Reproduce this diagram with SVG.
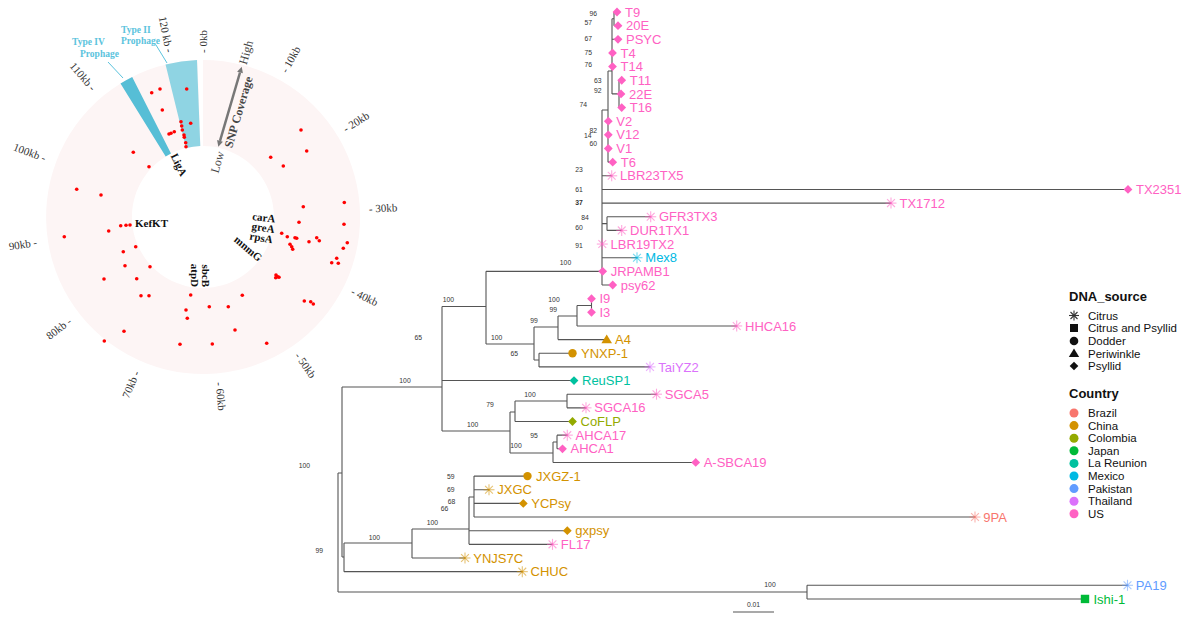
<svg xmlns="http://www.w3.org/2000/svg" width="1183" height="618" viewBox="0 0 1183 618">
<style>
.tl{font-family:"Liberation Sans",Arial,sans-serif;font-size:13px}
.bs{font-family:"Liberation Sans",Arial,sans-serif;font-size:6.8px;fill:#333;text-anchor:middle}
.tick{font-family:"Liberation Serif","Times New Roman",serif;font-size:11px;fill:#333;dominant-baseline:central}
.gene{font-family:"Liberation Serif","Times New Roman",serif;font-size:11px;font-weight:bold;fill:#111}
.ser{font-family:"Liberation Serif","Times New Roman",serif;font-size:12px;fill:#444;dominant-baseline:central;text-anchor:middle}
.pro{font-family:"Liberation Serif","Times New Roman",serif;font-size:9.5px;font-weight:bold;fill:#5BC3DD}
.edge{fill:none;stroke:#555;stroke-width:1.1}
.lg{font-family:"Liberation Sans",Arial,sans-serif;font-size:11.5px;fill:#111}
.lh{font-family:"Liberation Sans",Arial,sans-serif;font-size:13px;font-weight:bold;fill:#111}
.us{color:#FF61C3;fill:#FF61C3}
.cn{color:#D39200;fill:#D39200}
.co{color:#93AA00;fill:#93AA00}
.jp{color:#00BA38;fill:#00BA38}
.lr{color:#00C19F;fill:#00C19F}
.mx{color:#00B9E3;fill:#00B9E3}
.pk{color:#619CFF;fill:#619CFF}
.th{color:#DB72FB;fill:#DB72FB}
.br{color:#F8766D;fill:#F8766D}
.dot{fill:#FF0000}
</style>
<defs>
<path id="dia" d="M0,-4.4L4.4,0L0,4.4L-4.4,0Z" fill="currentColor"/>
<g id="star" stroke="currentColor" stroke-width="1.1" stroke-opacity="0.55" fill="none">
<line x1="-5.5" y1="0" x2="5.5" y2="0"/><line x1="0" y1="-5.5" x2="0" y2="5.5"/>
<line x1="-3.9" y1="-3.9" x2="3.9" y2="3.9"/><line x1="-3.9" y1="3.9" x2="3.9" y2="-3.9"/>
</g>
<circle id="circ" r="4.2" fill="currentColor"/>
<path id="tri" d="M0,-5L5.3,3.6L-5.3,3.6Z" fill="currentColor"/>
<rect id="sq" x="-4.2" y="-4.2" width="8.4" height="8.4" fill="currentColor"/>
</defs>
<rect width="1183" height="618" fill="#fff"/>

<!-- circular genome plot -->
<g id="genome-ring">
<path d="M203,60 A157,157 0 1 1 197.52,60.1 L200.52,146.04 A71,71 0 1 0 203,146 Z" fill="#FDF5F5"/>
<path d="M165.55,64.54 A157,157 0 0 1 196.97,60.12 L200.27,146.05 A71,71 0 0 0 186.07,148.05 Z" fill="#8FD4E3"/>
<path d="M120.5,83.4 A157,157 0 0 1 132.2,76.9 L171,153.6 A71,71 0 0 0 165.7,156.6 Z" fill="#56BED6"/>
</g>
<g id="prophage-labels">
<line x1="108" y1="62" x2="123" y2="78" stroke="#5BC3DD" stroke-width="1"/>
<line x1="156" y1="45" x2="167" y2="63" stroke="#5BC3DD" stroke-width="1"/>
<text class="pro" x="72" y="45">Type IV</text>
<text class="pro" x="80" y="57">Prophage</text>
<text class="pro" x="121" y="33">Type II</text>
<text class="pro" x="121" y="44">Prophage</text>
</g>
<g id="snps">
<circle class="dot" cx="151.7" cy="92.7" r="1.8"/><circle class="dot" cx="160" cy="89" r="1.8"/><circle class="dot" cx="186.7" cy="89" r="1.8"/>
<circle class="dot" cx="162.3" cy="110" r="1.8"/><circle class="dot" cx="190.7" cy="123.3" r="1.8"/><circle class="dot" cx="181" cy="121.7" r="1.8"/>
<circle class="dot" cx="181.7" cy="126" r="1.8"/><circle class="dot" cx="182.3" cy="130" r="1.8"/><circle class="dot" cx="184" cy="135" r="1.8"/>
<circle class="dot" cx="184.3" cy="137.3" r="1.8"/><circle class="dot" cx="185.7" cy="142.7" r="1.8"/><circle class="dot" cx="186" cy="146.7" r="1.8"/>
<circle class="dot" cx="169" cy="134" r="1.8"/><circle class="dot" cx="171" cy="133.3" r="1.8"/><circle class="dot" cx="174.3" cy="131.7" r="1.8"/>
<circle class="dot" cx="133.3" cy="152.3" r="1.8"/><circle class="dot" cx="149" cy="166.7" r="1.8"/><circle class="dot" cx="76.7" cy="189.3" r="1.8"/>
<circle class="dot" cx="101" cy="195" r="1.8"/><circle class="dot" cx="301" cy="130" r="1.8"/><circle class="dot" cx="306.7" cy="151" r="1.8"/>
<circle class="dot" cx="270.7" cy="157.3" r="1.8"/><circle class="dot" cx="283.3" cy="166" r="1.8"/><circle class="dot" cx="344.3" cy="202.5" r="1.8"/>
<circle class="dot" cx="303.3" cy="206.7" r="1.8"/><circle class="dot" cx="299" cy="222.3" r="1.8"/><circle class="dot" cx="344" cy="224.3" r="1.8"/>
<circle class="dot" cx="281.7" cy="233.3" r="1.8"/><circle class="dot" cx="287.3" cy="236.7" r="1.8"/><circle class="dot" cx="295" cy="237.7" r="1.8"/>
<circle class="dot" cx="296.7" cy="238.3" r="1.8"/><circle class="dot" cx="309" cy="241.7" r="1.8"/><circle class="dot" cx="316.7" cy="237.7" r="1.8"/>
<circle class="dot" cx="319.3" cy="240.7" r="1.8"/><circle class="dot" cx="290" cy="244.3" r="1.8"/><circle class="dot" cx="291.7" cy="246.7" r="1.8"/>
<circle class="dot" cx="292.7" cy="249.3" r="1.8"/><circle class="dot" cx="347.3" cy="242.7" r="1.8"/><circle class="dot" cx="343.3" cy="248.3" r="1.8"/>
<circle class="dot" cx="336.7" cy="258.3" r="1.8"/><circle class="dot" cx="331.7" cy="262.7" r="1.8"/><circle class="dot" cx="338.3" cy="263.3" r="1.8"/>
<circle class="dot" cx="276" cy="275" r="1.8"/><circle class="dot" cx="277.7" cy="276.7" r="1.8"/><circle class="dot" cx="275.7" cy="277.7" r="1.8"/>
<circle class="dot" cx="279" cy="277.3" r="1.8"/><circle class="dot" cx="304.3" cy="301" r="1.8"/><circle class="dot" cx="310.7" cy="301.7" r="1.8"/>
<circle class="dot" cx="313.3" cy="304" r="1.8"/><circle class="dot" cx="242.3" cy="295.3" r="1.8"/><circle class="dot" cx="228.3" cy="306.7" r="1.8"/>
<circle class="dot" cx="209.3" cy="306.7" r="1.8"/><circle class="dot" cx="190.7" cy="295" r="1.8"/><circle class="dot" cx="186" cy="310" r="1.8"/>
<circle class="dot" cx="187.3" cy="318.3" r="1.8"/><circle class="dot" cx="235" cy="330" r="1.8"/><circle class="dot" cx="212.3" cy="344" r="1.8"/>
<circle class="dot" cx="180" cy="344.3" r="1.8"/><circle class="dot" cx="266.7" cy="343.3" r="1.8"/><circle class="dot" cx="124" cy="331.3" r="1.8"/>
<circle class="dot" cx="104.3" cy="341" r="1.8"/><circle class="dot" cx="141" cy="295.7" r="1.8"/><circle class="dot" cx="149" cy="295.7" r="1.8"/>
<circle class="dot" cx="104" cy="279" r="1.8"/><circle class="dot" cx="136.7" cy="278.7" r="1.8"/><circle class="dot" cx="125" cy="265.7" r="1.8"/>
<circle class="dot" cx="150" cy="266.7" r="1.8"/><circle class="dot" cx="123.3" cy="251.7" r="1.8"/><circle class="dot" cx="135.7" cy="246.7" r="1.8"/>
<circle class="dot" cx="64.3" cy="236.7" r="1.8"/><circle class="dot" cx="108.7" cy="231" r="1.8"/><circle class="dot" cx="120.7" cy="225.7" r="1.8"/>
<circle class="dot" cx="126" cy="225.3" r="1.8"/><circle class="dot" cx="130" cy="225" r="1.8"/>
</g>
<g id="ticks">
<text class="tick" transform="translate(203,53) rotate(-90)">- 0kb</text>
<text class="tick" transform="translate(283.6,71.9) rotate(-61)">- 10kb</text>
<text class="tick" transform="translate(343.9,129.3) rotate(-31.9)">- 20kb</text>
<text class="tick" transform="translate(368.8,208.7) rotate(-2.9)">- 30kb</text>
<text class="tick" transform="translate(352,290.3) rotate(26.2)">- 40kb</text>
<text class="tick" transform="translate(297.6,353.4) rotate(55.3)">- 50kb</text>
<text class="tick" transform="translate(219.5,382.2) rotate(84.3)">- 60kb</text>
<text class="tick" text-anchor="end" transform="translate(136.4,371.2) rotate(-66.7)">70kb -</text>
<text class="tick" text-anchor="end" transform="translate(69.9,319.5) rotate(-37.6)">80kb -</text>
<text class="tick" text-anchor="end" transform="translate(36.9,242) rotate(-8.6)">90kb -</text>
<text class="tick" text-anchor="end" transform="translate(45.6,158.2) rotate(20.5)">100kb -</text>
<text class="tick" text-anchor="end" transform="translate(94,89.2) rotate(49.6)">110kb -</text>
<text class="tick" text-anchor="end" transform="translate(169.8,52.3) rotate(78.6)">120 kb -</text>
</g>
<g id="snp-coverage">
<line x1="220" y1="140.9" x2="240" y2="72.5" stroke="#777" stroke-width="2.5"/>
<polygon points="241.7,66.7 242.9,73.3 237.1,71.7" fill="#777"/>
<polygon points="218.3,146.7 222.9,141.7 217.1,140.1" fill="#777"/>
<text class="ser" font-weight="bold" transform="translate(238.5,112) rotate(-73.7)">SNP Coverage</text>
<text class="ser" transform="translate(246,52.5) rotate(-73.7)">High</text>
<text class="ser" transform="translate(217.5,162) rotate(-73.7)">Low</text>
</g>
<g id="genes">
<text class="gene" dominant-baseline="central" transform="translate(174,154) rotate(64)">LigA</text>
<text class="gene" x="135" y="226.5">KefKT</text>
<text class="gene" text-anchor="end" transform="translate(275,222.5) rotate(6)">carA</text>
<text class="gene" text-anchor="end" transform="translate(274,233) rotate(8)">greA</text>
<text class="gene" text-anchor="end" transform="translate(272,243.5) rotate(10)">rpsA</text>
<text class="gene" text-anchor="end" dominant-baseline="central" transform="translate(261,259) rotate(40)">mnmG</text>
<text class="gene" text-anchor="end" dominant-baseline="central" transform="translate(206,287) rotate(90)">sbcB</text>
<text class="gene" text-anchor="end" dominant-baseline="central" transform="translate(195,287) rotate(90)">atpD</text>
</g>

<!-- phylogenetic tree -->
<g id="connectors">
<path class="edge" d="M614,12V25.65M614,12H617M614,25.65H618M612,18.8H614
M612,18.8V93.9M612,39.3H618
M612,93.9H619M619,80.25V107.55M619,80.25H621.7M619,93.9H621M619,107.55H621.7
M608,71H612M608,71V162.15M608,162.15H612.7
M602,110H608M602,110V285M602,175.8H611.7M602,189.45H1128M602,203.1H891M602,223.6H607M607,216.75V230.4M607,216.75H650.7M607,230.4H621.7M602,257.7H637M602,285H612.7
M486,271.35H602.7M486,271.35V344M486,344H534
M534,327V360M534,327H558M534,360H539M539,353.25V366.9M539,353.25H572.5M539,366.9H650
M558,316V339.6M558,316H577M558,339.6H606.7M577,305.5V325.95M577,305.5H591.5M591.5,298.65V312.3M577,325.95H736.7
M442,306.5V431M442,306.5H486M442,380.55H574M442,431H510
M510,412V453M510,412H515M515,401V421.5M515,401H567M515,421.5H572.5M567,394.2V407.85M567,394.2H656.5M567,407.85H586
M510,453H553M553,442V462.45M553,442H557M557,435.15V448.8M557,435.15H567.3M557,448.8H562.5M553,462.45H695.7
M342,387H442M342,387V557M338,473H342M342,557H344M344,543V571.65M344,543H412M344,571.65H522.3
M412,529V558M412,529H469M412,558H465M469,497V544.35M469,497H474M469,530.7H567.3M469,544.35H552.5
M474,476.1V517.05M474,476.1H527.5M474,489.75H489M474,503.4H523.3M474,517.05H975
M338,473V592M338,592H807M807,585.3V598.95M807,585.3H1127.5M807,598.95H1085"/>
<path class="edge" d="M733,612H774"/>
<text class="bs" x="753.5" y="607">0.01</text>
</g>
<g id="bootstrap">
<text class="bs" x="593.3" y="15.5">96</text><text class="bs" x="588.3" y="25">57</text><text class="bs" x="588.3" y="40.5">67</text>
<text class="bs" x="588.3" y="55">75</text><text class="bs" x="588.3" y="67.3">76</text><text class="bs" x="597.7" y="83">63</text>
<text class="bs" x="597.7" y="93">92</text><text class="bs" x="583.3" y="106.5">74</text><text class="bs" x="593.3" y="133">82</text>
<text class="bs" x="587.7" y="138.3">14</text><text class="bs" x="593.3" y="146.3">60</text><text class="bs" x="579" y="172.3">23</text>
<text class="bs" x="579" y="191.6">61</text><text class="bs" x="579" y="204.6" font-weight="bold">37</text><text class="bs" x="585" y="219.6">84</text>
<text class="bs" x="579" y="229.6">60</text><text class="bs" x="579" y="248.3">91</text><text class="bs" x="565.5" y="264.8">100</text>
<text class="bs" x="554" y="301.6">100</text><text class="bs" x="553.3" y="311.6">99</text><text class="bs" x="534" y="323.3">99</text>
<text class="bs" x="448.3" y="302.3">100</text><text class="bs" x="496.7" y="339.6">100</text><text class="bs" x="418.3" y="339.6">65</text>
<text class="bs" x="514.3" y="355.6">65</text><text class="bs" x="405" y="383">100</text><text class="bs" x="530" y="396.6">100</text>
<text class="bs" x="490" y="406.6">79</text><text class="bs" x="472.7" y="427.3">100</text><text class="bs" x="534" y="438">95</text>
<text class="bs" x="516" y="448">100</text><text class="bs" x="304.3" y="468.3">100</text><text class="bs" x="450.7" y="479">59</text>
<text class="bs" x="450.7" y="492.3">69</text><text class="bs" x="451.5" y="504.2">68</text><text class="bs" x="444.5" y="510.6">66</text>
<text class="bs" x="432.3" y="525">100</text><text class="bs" x="374.3" y="539.6">100</text><text class="bs" x="319.3" y="553.3">99</text>
<text class="bs" x="770" y="587.3">100</text>
</g>
<g id="tip-T9" class="us"><use href="#dia" x="617" y="12"/><text class="tl" x="625" y="16.6">T9</text></g>
<g id="tip-20E" class="us"><use href="#dia" x="618" y="25.65"/><text class="tl" x="626" y="30.25">20E</text></g>
<g id="tip-PSYC" class="us"><use href="#dia" x="618" y="39.3"/><text class="tl" x="626" y="43.9">PSYC</text></g>
<g id="tip-T4" class="us"><use href="#dia" x="612.5" y="52.95"/><text class="tl" x="620.5" y="57.55">T4</text></g>
<g id="tip-T14" class="us"><use href="#dia" x="612.5" y="66.6"/><text class="tl" x="620.5" y="71.2">T14</text></g>
<g id="tip-T11" class="us"><use href="#dia" x="621.7" y="80.25"/><text class="tl" x="629.7" y="84.85">T11</text></g>
<g id="tip-22E" class="us"><use href="#dia" x="621" y="93.9"/><text class="tl" x="629" y="98.5">22E</text></g>
<g id="tip-T16" class="us"><use href="#dia" x="621.7" y="107.55"/><text class="tl" x="629.7" y="112.15">T16</text></g>
<g id="tip-V2" class="us"><use href="#dia" x="608.3" y="121.2"/><text class="tl" x="616.3" y="125.8">V2</text></g>
<g id="tip-V12" class="us"><use href="#dia" x="608.3" y="134.85"/><text class="tl" x="616.3" y="139.45">V12</text></g>
<g id="tip-V1" class="us"><use href="#dia" x="608.3" y="148.5"/><text class="tl" x="616.3" y="153.1">V1</text></g>
<g id="tip-T6" class="us"><use href="#dia" x="612.7" y="162.15"/><text class="tl" x="620.7" y="166.75">T6</text></g>
<g id="tip-LBR23TX5" class="us"><use href="#star" x="611.7" y="175.8"/><text class="tl" x="620" y="180.4">LBR23TX5</text></g>
<g id="tip-TX2351" class="us"><use href="#dia" x="1128" y="189.45"/><text class="tl" x="1136" y="194.05">TX2351</text></g>
<g id="tip-TX1712" class="us"><use href="#star" x="891" y="203.1"/><text class="tl" x="899.5" y="207.7">TX1712</text></g>
<g id="tip-GFR3TX3" class="us"><use href="#star" x="650.7" y="216.75"/><text class="tl" x="659" y="221.35">GFR3TX3</text></g>
<g id="tip-DUR1TX1" class="us"><use href="#star" x="621.7" y="230.4"/><text class="tl" x="630" y="235">DUR1TX1</text></g>
<g id="tip-LBR19TX2" class="us"><use href="#star" x="602.3" y="244.05"/><text class="tl" x="610.6" y="248.65">LBR19TX2</text></g>
<g id="tip-Mex8" class="mx"><use href="#star" x="637" y="257.7"/><text class="tl" x="645.3" y="262.3">Mex8</text></g>
<g id="tip-JRPAMB1" class="us"><use href="#dia" x="602.7" y="271.35"/><text class="tl" x="610.7" y="275.95">JRPAMB1</text></g>
<g id="tip-psy62" class="us"><use href="#dia" x="612.7" y="285"/><text class="tl" x="620.7" y="289.6">psy62</text></g>
<g id="tip-I9" class="us"><use href="#dia" x="591.5" y="298.65"/><text class="tl" x="599.5" y="303.25">I9</text></g>
<g id="tip-I3" class="us"><use href="#dia" x="591.5" y="312.3"/><text class="tl" x="599.5" y="316.9">I3</text></g>
<g id="tip-HHCA16" class="us"><use href="#star" x="736.7" y="325.95"/><text class="tl" x="745" y="330.55">HHCA16</text></g>
<g id="tip-A4" class="cn"><use href="#tri" x="606.7" y="339.6"/><text class="tl" x="615" y="344.2">A4</text></g>
<g id="tip-YNXP-1" class="cn"><use href="#circ" x="572.5" y="353.25"/><text class="tl" x="581" y="357.85">YNXP-1</text></g>
<g id="tip-TaiYZ2" class="th"><use href="#star" x="650" y="366.9"/><text class="tl" x="658.3" y="371.5">TaiYZ2</text></g>
<g id="tip-ReuSP1" class="lr"><use href="#dia" x="574" y="380.55"/><text class="tl" x="582" y="385.15">ReuSP1</text></g>
<g id="tip-SGCA5" class="us"><use href="#star" x="656.5" y="394.2"/><text class="tl" x="664.8" y="398.8">SGCA5</text></g>
<g id="tip-SGCA16" class="us"><use href="#star" x="586" y="407.85"/><text class="tl" x="594.3" y="412.45">SGCA16</text></g>
<g id="tip-CoFLP" class="co"><use href="#dia" x="572.5" y="421.5"/><text class="tl" x="580.5" y="426.1">CoFLP</text></g>
<g id="tip-AHCA17" class="us"><use href="#star" x="567.3" y="435.15"/><text class="tl" x="575.6" y="439.75">AHCA17</text></g>
<g id="tip-AHCA1" class="us"><use href="#dia" x="562.5" y="448.8"/><text class="tl" x="570.5" y="453.4">AHCA1</text></g>
<g id="tip-A-SBCA19" class="us"><use href="#dia" x="695.7" y="462.45"/><text class="tl" x="703.7" y="467.05">A-SBCA19</text></g>
<g id="tip-JXGZ-1" class="cn"><use href="#circ" x="527.5" y="476.1"/><text class="tl" x="536" y="480.7">JXGZ-1</text></g>
<g id="tip-JXGC" class="cn"><use href="#star" x="489" y="489.75"/><text class="tl" x="497.3" y="494.35">JXGC</text></g>
<g id="tip-YCPsy" class="cn"><use href="#dia" x="523.3" y="503.4"/><text class="tl" x="531.3" y="508">YCPsy</text></g>
<g id="tip-9PA" class="br"><use href="#star" x="975" y="517.05"/><text class="tl" x="983.3" y="521.65">9PA</text></g>
<g id="tip-gxpsy" class="cn"><use href="#dia" x="567.3" y="530.7"/><text class="tl" x="575.3" y="535.3">gxpsy</text></g>
<g id="tip-FL17" class="us"><use href="#star" x="552.5" y="544.35"/><text class="tl" x="560.8" y="548.95">FL17</text></g>
<g id="tip-YNJS7C" class="cn"><use href="#star" x="465" y="558"/><text class="tl" x="473.3" y="562.6">YNJS7C</text></g>
<g id="tip-CHUC" class="cn"><use href="#star" x="522.3" y="571.65"/><text class="tl" x="530.6" y="576.25">CHUC</text></g>
<g id="tip-PA19" class="pk"><use href="#star" x="1127.5" y="585.3"/><text class="tl" x="1135.8" y="589.9">PA19</text></g>
<g id="tip-Ishi-1" class="jp"><use href="#sq" x="1085" y="598.95"/><text class="tl" x="1093.5" y="603.55">Ishi-1</text></g>

<g id="legend">
<text class="lh" x="1069" y="301">DNA_source</text>
<g stroke="#333" stroke-width="1.1" fill="none" transform="translate(1074,315.5)">
<line x1="-5" y1="0" x2="5" y2="0"/><line x1="0" y1="-5" x2="0" y2="5"/><line x1="-3.5" y1="-3.5" x2="3.5" y2="3.5"/><line x1="-3.5" y1="3.5" x2="3.5" y2="-3.5"/>
</g>
<rect x="1070" y="324" width="8" height="8" fill="#111"/>
<circle cx="1074" cy="341" r="4.3" fill="#111"/>
<path d="M1074,348.5L1079.2,357L1068.8,357Z" fill="#111"/>
<path d="M1074,361.7L1078.3,366L1074,370.3L1069.7,366Z" fill="#111"/>
<text class="lg" x="1088" y="319.5">Citrus</text>
<text class="lg" x="1088" y="332.3">Citrus and Psyllid</text>
<text class="lg" x="1088" y="345">Dodder</text>
<text class="lg" x="1088" y="357.6">Periwinkle</text>
<text class="lg" x="1088" y="370.2">Psyllid</text>
<text class="lh" x="1069" y="398">Country</text>
<circle cx="1074" cy="413" r="4.5" fill="#F8766D"/><text class="lg" x="1088" y="417">Brazil</text>
<circle cx="1074" cy="425.6" r="4.5" fill="#D39200"/><text class="lg" x="1088" y="429.6">China</text>
<circle cx="1074" cy="438.2" r="4.5" fill="#93AA00"/><text class="lg" x="1088" y="442.2">Colombia</text>
<circle cx="1074" cy="450.8" r="4.5" fill="#00BA38"/><text class="lg" x="1088" y="454.8">Japan</text>
<circle cx="1074" cy="463.4" r="4.5" fill="#00C19F"/><text class="lg" x="1088" y="467.4">La Reunion</text>
<circle cx="1074" cy="476" r="4.5" fill="#00B9E3"/><text class="lg" x="1088" y="480">Mexico</text>
<circle cx="1074" cy="488.6" r="4.5" fill="#619CFF"/><text class="lg" x="1088" y="492.6">Pakistan</text>
<circle cx="1074" cy="501.2" r="4.5" fill="#DB72FB"/><text class="lg" x="1088" y="505.2">Thailand</text>
<circle cx="1074" cy="513.8" r="4.5" fill="#FF61C3"/><text class="lg" x="1088" y="517.8">US</text>
</g>
</svg>
